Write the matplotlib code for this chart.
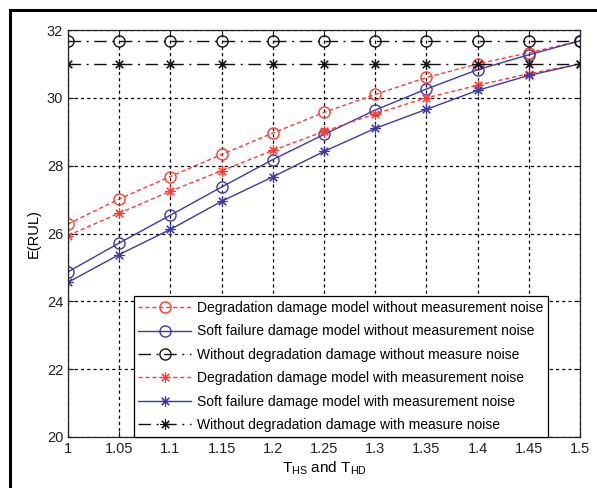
import matplotlib
matplotlib.use("Agg")
import matplotlib.pyplot as plt
from matplotlib.lines import Line2D

plt.rcParams['font.family'] = ['Liberation Sans', 'DejaVu Sans']
plt.rcParams['mathtext.fontset'] = 'custom'
plt.rcParams['mathtext.rm'] = 'Liberation Sans'
plt.rcParams['mathtext.it'] = 'Liberation Sans'

x = [1.0, 1.05, 1.1, 1.15, 1.2, 1.25, 1.3, 1.35, 1.4, 1.45, 1.5]
deg_no_noise = [26.28, 27.02, 27.68, 28.33, 28.96, 29.57, 30.10, 30.60, 31.00, 31.33, 31.68]
soft_no_noise = [24.87, 25.72, 26.54, 27.37, 28.18, 28.92, 29.64, 30.26, 30.83, 31.27, 31.68]
flat_no_noise = [31.68] * 11
deg_noise = [25.94, 26.60, 27.25, 27.85, 28.45, 29.01, 29.53, 30.00, 30.37, 30.71, 31.00]
soft_noise = [24.56, 25.38, 26.12, 26.95, 27.67, 28.42, 29.10, 29.66, 30.22, 30.66, 31.00]
flat_noise = [31.00] * 11

labels = [
    'Degradation damage model without measurement noise',
    'Soft failure damage model without measurement noise',
    'Without degradation damage without measure noise',
    'Degradation damage model with measurement noise',
    'Soft failure damage model with measurement noise',
    'Without degradation damage with measure noise',
]
xticks = [1, 1.05, 1.1, 1.15, 1.2, 1.25, 1.3, 1.35, 1.4, 1.45, 1.5]
xticklabels = ['1', '1.05', '1.1', '1.15', '1.2', '1.25', '1.3', '1.35', '1.4', '1.45', '1.5']
yticks = [20, 22, 24, 26, 28, 30, 32]

red = '#ff3b2f'
blue = '#3a3aa8'
blk = '#111111'

fig = plt.figure(figsize=(5.97, 4.88), dpi=100)
ax = fig.add_axes([68/597, 1-437/488, 512/597, 407/488])

ms = 8
star = (8, 2, 0)
sms = 7.5
dashdot = (0, (9, 4, 1.5, 4))
ax.plot(x, deg_no_noise, color=red, ls=(0, (3, 2)), lw=1.0, marker='o', ms=ms, mfc='none', mec=red, mew=1.0, label=labels[0])
ax.plot(x, soft_no_noise, color=blue, ls='-', lw=1.0, marker='o', ms=ms, mfc='none', mec=blue, mew=1.0, label=labels[1])
ax.plot(x, flat_no_noise, color=blk, ls=dashdot, lw=1.0, marker='o', ms=ms, mfc='none', mec=blk, mew=1.0, label=labels[2])
ax.plot(x, deg_noise, color=red, ls=(0, (3, 2)), lw=1.0, marker=star, ms=sms, mec=red, mew=0.8, label=labels[3])
ax.plot(x, soft_noise, color=blue, ls='-', lw=1.0, marker=star, ms=sms, mec=blue, mew=0.8, label=labels[4])
ax.plot(x, flat_noise, color=blk, ls=dashdot, lw=1.0, marker=star, ms=sms, mec=blk, mew=0.8, label=labels[5])

ax.set_xlim(1, 1.5)
ax.set_ylim(20, 32)
ax.set_xticks(xticks)
ax.set_xticklabels(xticklabels)
ax.set_yticks(yticks)
ax.tick_params(direction='in', length=4, labelsize=10.5, colors='#222222')
ax.tick_params(top=True, right=True)
ax.grid(True, color='black', ls=(0, (2.5, 2.5)), lw=0.9)
for s in ax.spines.values():
    s.set_linewidth(0.9)
    s.set_color('#222222')

ax.set_xlabel('T$_{\\mathrm{HS}}$ and T$_{\\mathrm{HD}}$', fontsize=11, labelpad=3)
ax.set_ylabel('E(RUL)', fontsize=10.5)

leg = ax.legend(loc='lower right', bbox_to_anchor=(480/512, 0.0), borderaxespad=0,
                fontsize=10, handlelength=3.8, handletextpad=0.4, labelspacing=0.68,
                fancybox=False, framealpha=1, edgecolor='black', borderpad=0.35)
leg.get_frame().set_linewidth(0.9)

# outer frame lines (top and left)
fig.add_artist(Line2D([10/597, 1.0], [1-10/488, 1-10/488], transform=fig.transFigure, color='black', lw=2.2))
fig.add_artist(Line2D([10/597, 10/597], [0.0, 1-10/488], transform=fig.transFigure, color='black', lw=2.2))

fig.savefig('out.png', dpi=100)
